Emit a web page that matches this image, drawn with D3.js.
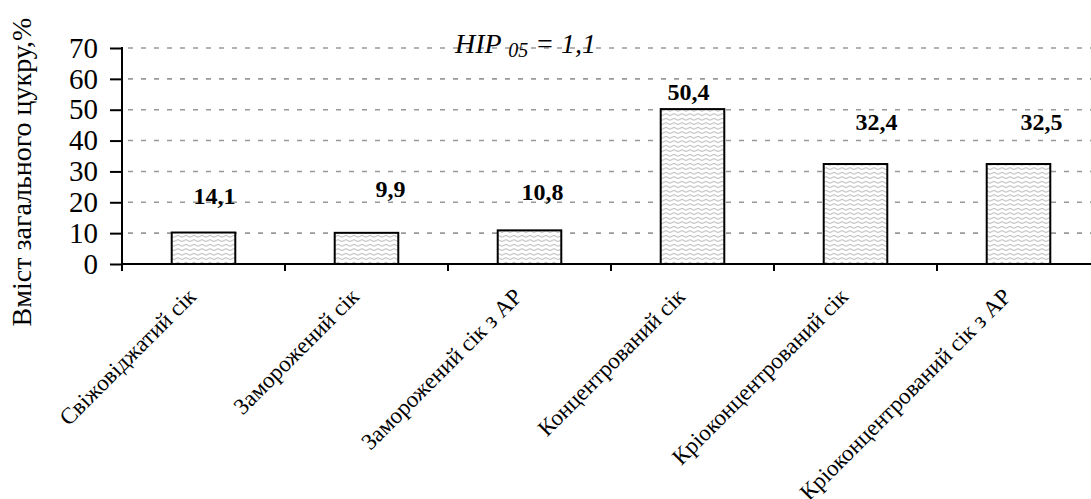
<!DOCTYPE html>
<html><head><meta charset="utf-8">
<script src="https://cdn.jsdelivr.net/npm/d3@7"></script>
<style>
html,body{margin:0;padding:0;background:#fff;}
svg text{font-family:"Liberation Serif","Times New Roman","DejaVu Serif",serif;}
</style></head>
<body>
<svg id="chart" width="1091" height="499"></svg>
<script>
// ---- data ----
const categories = ["Свіжовіджатий сік","Заморожений сік","Заморожений сік з АР","Концентрований сік","Кріоконцентрований сік","Кріоконцентрований сік з АР"];
const barValues = [10.2, 10.1, 10.9, 50.2, 32.4, 32.4];
const valueLabels = ["14,1","9,9","10,8","50,4","32,4","32,5"];
const yTicks = [0,10,20,30,40,50,60,70];
const yTitle = "Вміст загального цукру,%";

// ---- layout ----
const FONT = "'Liberation Serif','Times New Roman','DejaVu Serif',serif";
const svg = d3.select("#chart");
const x0 = 122, yBottom = 264, yTop = 48;
const x = d3.scaleBand().domain(categories).range([x0, x0 + 6*163]).padding(0);
const y = d3.scaleLinear().domain([0,70]).range([yBottom, yTop]);
const labelNudge = [[11,-29],[24,-36],[13,-30],[-4,-9],[21,-34],[23,-34]];

// pattern
const defs = svg.append("defs");
const pat = defs.append("pattern").attr("id","wave").attr("patternUnits","userSpaceOnUse")
  .attr("width",8).attr("height",4.5);
pat.append("rect").attr("width",8).attr("height",4.5).attr("fill","#fff");
pat.append("path").attr("d","M0,2.2 Q2,0.4 4,2.2 T8,2.2").attr("fill","none")
  .attr("stroke","#a5a5a5").attr("stroke-width",0.9);

// gridlines
svg.append("g").selectAll("line").data(yTicks.filter(d=>d>0)).join("line")
  .attr("x1",x0+6).attr("x2",1091).attr("y1",d=>y(d)).attr("y2",d=>y(d))
  .attr("stroke","#999").attr("stroke-width",1.6).attr("stroke-dasharray","5,8");

// y axis
const yAxis = svg.append("g").attr("transform",`translate(${x0},0)`)
  .call(d3.axisLeft(y).tickValues(yTicks).tickSize(12).tickPadding(12));
yAxis.attr("font-family",null);
yAxis.select(".domain").remove();
yAxis.selectAll(".tick line").attr("stroke","#000").attr("stroke-width",2);
yAxis.selectAll(".tick text").attr("font-size",29).attr("fill","#000")
  .style("font-family",FONT);
svg.append("line").attr("x1",x0).attr("x2",x0).attr("y1",yTop-1).attr("y2",yBottom+7)
  .attr("stroke","#000").attr("stroke-width",2);

// bars
const bw = x.bandwidth()*0.39;
svg.append("g").selectAll("rect").data(categories).join("rect")
  .attr("x",(d)=>x(d)+x.bandwidth()/2-bw/2)
  .attr("y",(d,i)=>y(barValues[i]))
  .attr("width",bw)
  .attr("height",(d,i)=>y(0)-y(barValues[i]))
  .attr("fill","url(#wave)").attr("stroke","#000").attr("stroke-width",2);

// x axis
svg.append("line").attr("x1",x0).attr("x2",1091).attr("y1",yBottom).attr("y2",yBottom)
  .attr("stroke","#000").attr("stroke-width",2);
svg.append("g").selectAll("line").data(d3.range(1,7)).join("line")
  .attr("x1",i=>x0+i*x.step()).attr("x2",i=>x0+i*x.step())
  .attr("y1",yBottom).attr("y2",yBottom+7).attr("stroke","#000").attr("stroke-width",2);

// category labels
svg.append("g").selectAll("text").data(categories).join("text")
  .attr("transform",d=>`translate(${x(d)+x.bandwidth()/2-6},${yBottom+34}) rotate(-45)`)
  .attr("text-anchor","end").attr("font-size",23).attr("fill","#000")
  .style("font-family",FONT).text(d=>d);

// value labels
svg.append("g").selectAll("text").data(valueLabels).join("text")
  .attr("x",(d,i)=>x(categories[i])+x.bandwidth()/2+labelNudge[i][0])
  .attr("y",(d,i)=>y(barValues[i])+labelNudge[i][1])
  .attr("text-anchor","middle").attr("font-size",24).attr("font-weight","bold")
  .attr("fill","#000").style("font-family",FONT).text(d=>d);

// HIP annotation
const hip = svg.append("text").attr("x",455).attr("y",53).attr("font-size",28)
  .attr("font-style","italic").attr("fill","#000").style("font-family",FONT);
hip.append("tspan").text("HIP ");
hip.append("tspan").attr("font-size",20).attr("dy",4).text("05");
hip.append("tspan").attr("dy",-4).text(" = 1,1");

// y title
svg.append("text").attr("transform",`translate(31,172) rotate(-90)`)
  .attr("text-anchor","middle").attr("font-size",28).attr("fill","#000")
  .style("font-family",FONT).text(yTitle);
</script>
</body></html>
